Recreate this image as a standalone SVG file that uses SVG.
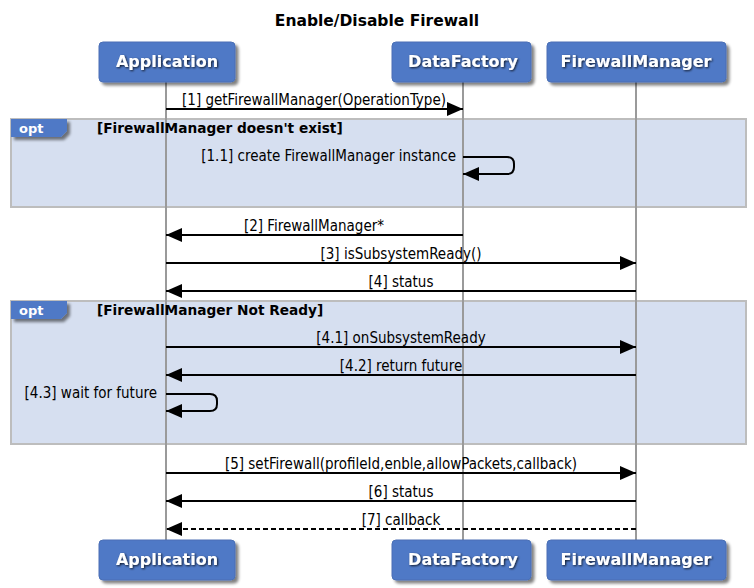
<svg xmlns="http://www.w3.org/2000/svg" width="754" height="588" viewBox="0 0 754 588">
<defs>
<filter id="sh" x="-10%" y="-10%" width="130%" height="140%">
<feGaussianBlur in="SourceAlpha" stdDeviation="1.5"/>
<feOffset dx="3" dy="3" result="o"/>
<feComponentTransfer><feFuncA type="linear" slope="0.5"/></feComponentTransfer>
<feMerge><feMergeNode/><feMergeNode in="SourceGraphic"/></feMerge>
</filter>
<filter id="tsh" x="-10%" y="-20%" width="120%" height="150%">
<feGaussianBlur in="SourceAlpha" stdDeviation="0.8"/>
<feOffset dx="1" dy="1"/>
<feComponentTransfer><feFuncA type="linear" slope="0.8"/></feComponentTransfer>
<feMerge><feMergeNode/><feMergeNode in="SourceGraphic"/></feMerge>
</filter>
<marker id="ah" markerWidth="16" markerHeight="14" refX="16" refY="7" orient="auto" markerUnits="userSpaceOnUse">
<path d="M0,0 L16,7 L0,14 Z" fill="#000"/>
</marker>
<style>
.title{font-family:"DejaVu Sans",sans-serif;font-weight:bold;font-size:15.5px;fill:#000;text-anchor:middle}
.pbox{fill:#5079c6;stroke:#4a6fb5;stroke-width:1}
.plabel{font-family:"DejaVu Sans",sans-serif;font-weight:bold;font-size:16px;fill:#fff;text-anchor:middle}
.life{stroke:#9a9a9a;stroke-width:2}
.frag{fill:#d6dff0;stroke:#bdbdbd;stroke-width:2}
.tab{fill:#5079c6}
.tabt{font-family:"DejaVu Sans",sans-serif;font-weight:bold;font-size:13px;fill:#fff}
.cond{font-family:"DejaVu Sans",sans-serif;font-weight:bold;font-size:13.7px;fill:#000}
.msg{stroke:#000;stroke-width:2;fill:none}
.dash{stroke-dasharray:5,3}
.ml{font-family:"DejaVu Sans Condensed","DejaVu Sans",sans-serif;font-size:15px;fill:#000;text-anchor:middle}
.mr{font-family:"DejaVu Sans Condensed","DejaVu Sans",sans-serif;font-size:15px;fill:#000;text-anchor:end}
</style>
</defs>
<rect width="754" height="588" fill="#fff"/>
<text class="title" x="377" y="26">Enable/Disable Firewall</text>

<g id="fragments">
<rect class="frag" x="11" y="119" width="735" height="88"/>
<rect class="frag" x="11" y="301" width="735" height="143"/>
</g>

<g id="lifelines">
<line class="life" x1="166" y1="82" x2="166" y2="540"/>
<line class="life" x1="463" y1="82" x2="463" y2="540"/>
<line class="life" x1="636" y1="82" x2="636" y2="540"/>
</g>

<g id="frag-labels">
<g id="opt1">
<path class="tab" filter="url(#sh)" d="M11,119 H67 V131 L61,137 H11 Z"/>
<text class="tabt" x="19" y="133">opt</text>
<text class="cond" x="97" y="133">[FirewallManager doesn't exist]</text>
</g>
<g id="opt2">
<path class="tab" filter="url(#sh)" d="M11,301 H67 V313 L61,319 H11 Z"/>
<text class="tabt" x="19" y="315">opt</text>
<text class="cond" x="97" y="315">[FirewallManager Not Ready]</text>
</g>
</g>

<g id="connectors">
<line class="msg" x1="166" y1="109" x2="463" y2="109" marker-end="url(#ah)"/>
<text class="ml" x="314" y="105">[1] getFirewallManager(OperationType)</text>

<path class="msg" d="M463,157 H507 Q514,157 514,164 V167 Q514,174 507,174 H463" marker-end="url(#ah)"/>
<text class="mr" x="456" y="161">[1.1] create FirewallManager instance</text>

<line class="msg" x1="463" y1="235" x2="166" y2="235" marker-end="url(#ah)"/>
<text class="ml" x="314" y="231">[2] FirewallManager*</text>

<line class="msg" x1="166" y1="263" x2="636" y2="263" marker-end="url(#ah)"/>
<text class="ml" x="401" y="259">[3] isSubsystemReady()</text>

<line class="msg" x1="636" y1="291" x2="166" y2="291" marker-end="url(#ah)"/>
<text class="ml" x="401" y="287">[4] status</text>

<line class="msg" x1="166" y1="347" x2="636" y2="347" marker-end="url(#ah)"/>
<text class="ml" x="401" y="343">[4.1] onSubsystemReady</text>

<line class="msg" x1="636" y1="375" x2="166" y2="375" marker-end="url(#ah)"/>
<text class="ml" x="401" y="371">[4.2] return future</text>

<path class="msg" d="M166,394 H210 Q217,394 217,401 V404 Q217,411 210,411 H166" marker-end="url(#ah)"/>
<text class="mr" x="157" y="398">[4.3] wait for future</text>

<line class="msg" x1="166" y1="473" x2="636" y2="473" marker-end="url(#ah)"/>
<text class="ml" x="401" y="469">[5] setFirewall(profileId,enble,allowPackets,callback)</text>

<line class="msg" x1="636" y1="501" x2="166" y2="501" marker-end="url(#ah)"/>
<text class="ml" x="401" y="497">[6] status</text>

<line class="msg dash" x1="636" y1="529" x2="166" y2="529" marker-end="url(#ah)"/>
<text class="ml" x="401" y="525">[7] callback</text>
</g>

<g id="p-app-top">
<rect class="pbox" filter="url(#sh)" x="99" y="42" width="136" height="40" rx="4"/>
<text class="plabel" filter="url(#tsh)" x="167" y="67">Application</text>
</g>
<g id="p-df-top">
<rect class="pbox" filter="url(#sh)" x="392" y="42" width="139" height="40" rx="4"/>
<text class="plabel" filter="url(#tsh)" x="463" y="67">DataFactory</text>
</g>
<g id="p-fm-top">
<rect class="pbox" filter="url(#sh)" x="547" y="42" width="179" height="40" rx="4"/>
<text class="plabel" filter="url(#tsh)" x="636" y="67">FirewallManager</text>
</g>
<g id="p-app-bot">
<rect class="pbox" filter="url(#sh)" x="99" y="540" width="136" height="40" rx="4"/>
<text class="plabel" filter="url(#tsh)" x="167" y="565">Application</text>
</g>
<g id="p-df-bot">
<rect class="pbox" filter="url(#sh)" x="392" y="540" width="139" height="40" rx="4"/>
<text class="plabel" filter="url(#tsh)" x="463" y="565">DataFactory</text>
</g>
<g id="p-fm-bot">
<rect class="pbox" filter="url(#sh)" x="547" y="540" width="179" height="40" rx="4"/>
<text class="plabel" filter="url(#tsh)" x="636" y="565">FirewallManager</text>
</g>
</svg>
